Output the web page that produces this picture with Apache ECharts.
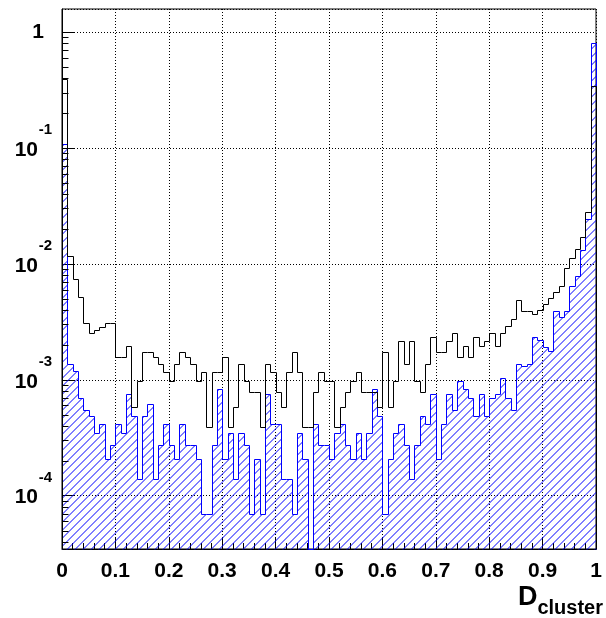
<!DOCTYPE html>
<html><head><meta charset="utf-8">
<script src="https://cdn.jsdelivr.net/npm/echarts@6/dist/echarts.min.js"></script>
<style>html,body{margin:0;padding:0;background:#fff;}#c{width:606px;height:618px;}</style>
</head><body><div id="c"></div>
<script>
// Histogram binning: 100 bins over [0, 1]
const binLow = 0, binHigh = 1, nBins = 100;

// black open histogram
const blackValues = [
 0.395, 0.0117, 0.00733, 0.00518, 0.00306, 0.00251, 0.00271, 0.00285, 0.00306, 0.00306,
 0.00156, 0.00156, 0.00195, 0.000584, 0.000973, 0.00175, 0.00175, 0.00156, 0.00136, 0.00117,
 0.000973, 0.00136, 0.00175, 0.00156, 0.00136, 0.000973, 0.00117, 0.000389, 0.00117, 0.00117,
 0.00156, 0.000389, 0.000584, 0.00136, 0.000973, 0.000778, 0.000778, 0.000389, 0.00136, 0.00117,
 0.000778, 0.000584, 0.00117, 0.00175, 0.00117, 0.000389, 0.000389, 0.000778, 0.00117, 0.000973,
 0.000973, 0.000389, 0.000584, 0.000778, 0.000973, 0.00117, 0.000778, 0.000778, 0.000778, 0.000584,
 0.00175, 0.000584, 0.000973, 0.00214, 0.00136, 0.00214, 0.000973, 0.000778, 0.00136, 0.00234,
 0.00175, 0.00175, 0.00214, 0.00253, 0.00156, 0.00195, 0.00156, 0.00234, 0.00195, 0.00214,
 0.00253, 0.00195, 0.00253, 0.00292, 0.00331, 0.00486, 0.00389, 0.00389, 0.00370, 0.00397,
 0.00448, 0.00506, 0.00575, 0.00648, 0.00915, 0.0112, 0.0133, 0.0169, 0.0280, 0.344
];

// blue hatched histogram
const blueValues = [
 0.107, 0.00138, 0.00118, 0.000691, 0.000553, 0.000484, 0.000346, 0.000415, 0.000207, 0.000276,
 0.000415, 0.000346, 0.00076, 0.000484, 0.000138, 0.000484, 0.000622, 0.000138, 0.000276, 0.000415,
 0.000276, 0.000207, 0.000415, 0.000276, 0.000276, 0.000207, 0.0000691, 0.0000691, 0.000276, 0.000829,
 0.000207, 0.000346, 0.000138, 0.000346, 0.000276, 0.0000691, 0.000207, 0.0000691, 0.00076, 0.000415,
 0.000415, 0.000138, 0.000138, 0.0000691, 0.000346, 0.000207, 0, 0.000415, 0.000276, 0.000276,
 0.000207, 0.000346, 0.000415, 0.000276, 0.000207, 0.000346, 0.000207, 0.000346, 0.000829, 0.000484,
 0.0000691, 0.000207, 0.000346, 0.000415, 0.000276, 0.000138, 0.000276, 0.000484, 0.000415, 0.00076,
 0.000207, 0.000415, 0.00076, 0.000553, 0.000967, 0.000829, 0.000691, 0.000484, 0.00076, 0.000484,
 0.000691, 0.00076, 0.00104, 0.000691, 0.000553, 0.00138, 0.00131, 0.00138, 0.00235, 0.0022,
 0.00193, 0.00177, 0.0039, 0.00349, 0.0039, 0.00648, 0.00781, 0.0132, 0.0243, 0.80
];

const xTickLabels = ['0','0.1','0.2','0.3','0.4','0.5','0.6','0.7','0.8','0.9','1'];
const yTickExponents = [-4, -3, -2, -1, 0];
const yMin = 3.47e-5, yMax = 1.576;

const FONT = '"Liberation Sans", Arial, Helvetica, sans-serif';

// hatch tile ("/" direction), lines straddling pixel boundaries for a soft 2px blue line
function makeHatch() {
  const s = 8;
  const c = document.createElement('canvas');
  c.width = s; c.height = s;
  const g = c.getContext('2d');
  g.strokeStyle = '#0000ff';
  g.lineWidth = 1;
  g.beginPath();
  [0.5, s + 0.5, 2 * s + 0.5].forEach(function (k) {
    g.moveTo(k + 2, -2); g.lineTo(-2, k + 2);
  });
  g.stroke();
  return c;
}
const hatch = makeHatch();

function crisp(p) { return [Math.round(p[0]) + 0.5, Math.round(p[1]) + 0.5]; }

function histRender(values, stroke, fillPattern) {
  return function (params, api) {
    const line = [];
    line.push(crisp(api.coord([binLow, yMin])));
    for (let i = 0; i < nBins; i++) {
      const x0 = binLow + (binHigh - binLow) * i / nBins;
      const x1 = binLow + (binHigh - binLow) * (i + 1) / nBins;
      const v = Math.min(Math.max(values[i], yMin), yMax);
      line.push(crisp(api.coord([x0, v])));
      line.push(crisp(api.coord([x1, v])));
    }
    line.push(crisp(api.coord([binHigh, yMin])));
    const children = [];
    if (fillPattern) {
      children.push({ type: 'polygon', shape: { points: line },
        style: { fill: { image: fillPattern, repeat: 'repeat' }, stroke: null } });
    }
    children.push({ type: 'polyline', shape: { points: line },
      style: { fill: null, stroke: stroke, lineWidth: 1 } });
    return { type: 'group', children: children };
  };
}

// minor ticks of the log axis (2..9 x 10^n)
const minorY = [];
for (let e = -5; e <= 0; e++) for (let k = 2; k <= 9; k++) {
  const v = k * Math.pow(10, e);
  if (v > yMin && v < yMax) minorY.push([binLow, v]);
}

const chart = echarts.init(document.getElementById('c'), null, { renderer: 'canvas' });
chart.setOption({
  animation: false,
  backgroundColor: '#fff',
  grid: { left: 62, top: 9, width: 541.5, height: 542.5, show: true,
          borderColor: '#000', borderWidth: 1, backgroundColor: '#fff', containLabel: false },
  xAxis: {
    type: 'value', min: 0, max: 1, interval: 0.1,
    axisLine: { show: true, lineStyle: { color: '#000', width: 1 } },
    axisTick: { show: true, inside: true, length: 12, lineStyle: { color: '#000' } },
    minorTick: { show: true, splitNumber: 5, length: 6, lineStyle: { color: '#000' } },
    splitLine: { show: true, lineStyle: { color: '#000', type: [1, 2], width: 1 } },
    axisLabel: { margin: 12, color: '#000', fontSize: 21, fontWeight: 'bold', fontFamily: FONT,
      showMinLabel: true, showMaxLabel: true, hideOverlap: false,
      formatter: function (v) { return xTickLabels[Math.round(v * 10)] || ''; } },
    name: '{d|D}{s|cluster}', nameLocation: 'end', nameGap: 7, nameMoveOverlap: false,
    nameTextStyle: { align: 'right', verticalAlign: 'top', padding: [29, 0, 0, 0], color: '#000',
      rich: {
        d: { fontSize: 27, fontWeight: 'bold', fontFamily: FONT, color: '#000' },
        s: { fontSize: 20, fontWeight: 'bold', fontFamily: FONT, color: '#000', padding: [20, 0, 0, 0] }
      } }
  },
  yAxis: {
    type: 'log', logBase: 10, min: yMin, max: yMax,
    axisLine: { show: true, lineStyle: { color: '#000', width: 1 } },
    axisTick: { show: true, inside: true, length: 12, lineStyle: { color: '#000' } },
    splitLine: { show: true, lineStyle: { color: '#000', type: [1, 2], width: 1 } },
    axisLabel: { margin: 10, color: '#000', showMinLabel: false, showMaxLabel: false, hideOverlap: false,
      formatter: function (v) {
        const e = Math.log10(v), r = Math.round(e);
        if (Math.abs(e - r) > 1e-6 || yTickExponents.indexOf(r) < 0) return '';
        return r === 0 ? '{one|1}' : '{s|' + r + '}\n{b|10}';
      },
      rich: {
        one: { fontSize: 21, fontWeight: 'bold', fontFamily: FONT, color: '#000', padding: [0, 8, 0, 0] },
        b: { fontSize: 21, fontWeight: 'bold', fontFamily: FONT, color: '#000', lineHeight: 36, padding: [0, 14, 0, 0] },
        s: { fontSize: 15, fontWeight: 'bold', fontFamily: FONT, color: '#000', lineHeight: 4 }
      } }
  },
  series: [
    { type: 'custom', silent: true, data: [[0.5, 0.001]], renderItem: histRender(blueValues, '#0000ff', hatch), z: 2 },
    { type: 'custom', silent: true, data: [[0.5, 0.001]], renderItem: histRender(blackValues, '#000000', null), z: 3 },
    { type: 'custom', silent: true, data: minorY, z: 4,
      renderItem: function (params, api) {
        const p = crisp(api.coord([api.value(0), api.value(1)]));
        return { type: 'line', shape: { x1: p[0], y1: p[1], x2: p[0] + 6, y2: p[1] },
                 style: { stroke: '#000', lineWidth: 1 } };
      } }
  ]
});
</script></body></html>
